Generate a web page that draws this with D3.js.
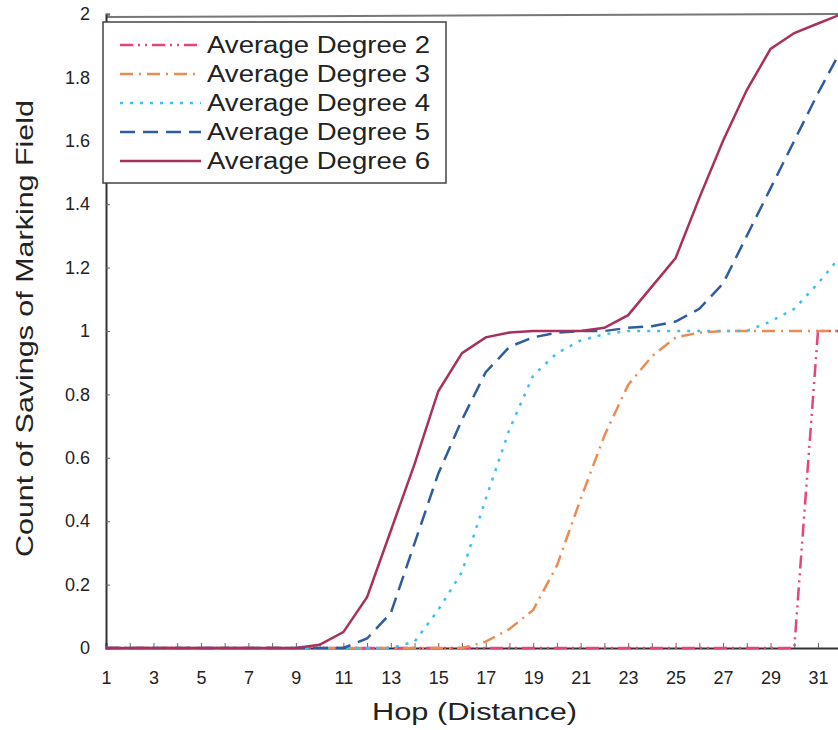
<!DOCTYPE html>
<html>
<head>
<meta charset="utf-8">
<script src="https://cdn.jsdelivr.net/npm/d3@7"></script>
<style>
  body { margin: 0; background: #fff; }
  svg { display: block; font-family: "Liberation Sans", Arial, sans-serif; }
</style>
</head>
<body>
<svg id="chart" width="838" height="730"></svg>
<script>
// hops 1..32
var hops = d3.range(1, 33);
var yTicks = [0, 0.2, 0.4, 0.6, 0.8, 1, 1.2, 1.4, 1.6, 1.8, 2];
var seriesNames = ["Average Degree 2", "Average Degree 3", "Average Degree 4", "Average Degree 5", "Average Degree 6"];

var deg2 = [0,0,0,0,0,0,0,0,0,0, 0,0,0,0,0,0,0,0,0,0, 0,0,0,0,0,0,0,0,0,0, 1.0,1.0];
var deg3 = [0,0,0,0,0,0,0,0,0,0, 0,0,0,0,0,0,0.02,0.06,0.12,0.26, 0.47,0.67,0.83,0.92,0.98,0.995,1.0,1.0,1.0,1.0, 1.0,1.0];
var deg4 = [0,0,0,0,0,0,0,0,0,0, 0,0,0,0.02,0.12,0.24,0.47,0.69,0.86,0.93, 0.97,0.99,1.0,1.0,1.0,1.0,1.0,1.0,1.03,1.07, 1.15,1.24];
var deg5 = [0,0,0,0,0,0,0,0,0,0, 0,0.03,0.11,0.33,0.55,0.72,0.87,0.95,0.98,0.995, 1.0,1.0,1.01,1.015,1.03,1.07,1.15,1.3,1.45,1.6, 1.75,1.89];
var deg6 = [0,0,0,0,0,0,0,0,0,0.01, 0.05,0.16,0.37,0.58,0.81,0.93,0.98,0.995,1.0,1.0, 1.0,1.01,1.05,1.14,1.23,1.42,1.6,1.76,1.89,1.94, 1.97,2.0];

var series = [
  {name: seriesNames[0], values: deg2, color: "#e4457c", dash: "13,5,2,5,2,5"},
  {name: seriesNames[1], values: deg3, color: "#ec8a52", dash: "13,6,2,6"},
  {name: seriesNames[2], values: deg4, color: "#3ec0ee", dash: "3,7"},
  {name: seriesNames[3], values: deg5, color: "#2f5c9e", dash: "15,8"},
  {name: seriesNames[4], values: deg6, color: "#a8305e", dash: null}
];

var svg = d3.select("#chart");
var plotLeft = 106, plotTop = 14, plotBottom = 648;
var unit = 23.733;

var x = d3.scaleLinear().domain([1, 32]).range([plotLeft, plotLeft + 31 * unit]);
var y = d3.scaleLinear().domain([0, 2]).range([plotBottom, plotTop]);

// frame top
svg.append("line")
  .attr("x1", plotLeft).attr("x2", 838)
  .attr("y1", y(2) + 3).attr("y2", y(2))
  .attr("stroke", "#777").attr("stroke-width", 2);

// x axis
var xAxis = d3.axisBottom(x)
  .tickValues(hops)
  .tickSize(-5)
  .tickPadding(23)
  .tickFormat(function(d) { return d % 2 == 1 ? d : ""; });
var gx = svg.append("g").attr("transform", "translate(0," + plotBottom + ")").call(xAxis);
gx.select(".domain").attr("stroke", "#333").attr("stroke-width", 2);
gx.selectAll(".tick line").attr("stroke", "#666");
gx.selectAll("text").attr("font-size", 18).attr("fill", "#222")
  .attr("font-family", "Liberation Sans, Arial, sans-serif");

// y axis
var yAxis = d3.axisLeft(y)
  .tickValues(yTicks)
  .tickSize(-4)
  .tickPadding(16)
  .tickFormat(function(d) { return d3.format("")(+d.toFixed(1)); });
var gy = svg.append("g").attr("transform", "translate(" + plotLeft + ",0)").call(yAxis);
gy.select(".domain").attr("stroke", "#333").attr("stroke-width", 2);
gy.selectAll(".tick line").attr("stroke", "#666");
gy.selectAll("text").attr("font-size", 18).attr("fill", "#222")
  .attr("font-family", "Liberation Sans, Arial, sans-serif");

// series lines
var line = d3.line()
  .x(function(d, i) { return x(hops[i]); })
  .y(function(d) { return y(d); });

svg.selectAll(".series").data(series).enter().append("path")
  .attr("class", "series")
  .attr("d", function(d) { return line(d.values); })
  .attr("fill", "none")
  .attr("stroke", function(d) { return d.color; })
  .attr("stroke-width", 2.5)
  .attr("stroke-dasharray", function(d) { return d.dash; });

// axis titles
svg.append("text")
  .attr("x", 372).attr("y", 720)
  .attr("font-size", 23).attr("fill", "#222")
  .attr("textLength", 205).attr("lengthAdjust", "spacingAndGlyphs")
  .text("Hop (Distance)");

svg.append("text")
  .attr("transform", "translate(33,557) rotate(-90)")
  .attr("font-size", 24).attr("fill", "#222")
  .attr("textLength", 457).attr("lengthAdjust", "spacingAndGlyphs")
  .text("Count of Savings of Marking Field");

// legend
var legend = svg.append("g");
legend.append("rect")
  .attr("x", 103).attr("y", 22).attr("width", 343).attr("height", 161)
  .attr("fill", "#fff").attr("stroke", "#444").attr("stroke-width", 1.5);

var item = legend.selectAll(".item").data(series).enter().append("g")
  .attr("class", "item")
  .attr("transform", function(d, i) { return "translate(0," + (45 + i * 29) + ")"; });
item.append("line")
  .attr("x1", 120).attr("x2", 201)
  .attr("stroke", function(d) { return d.color; })
  .attr("stroke-width", 2.5)
  .attr("stroke-dasharray", function(d) { return d.dash; });
item.append("text")
  .attr("x", 207).attr("y", 8)
  .attr("font-size", 23).attr("fill", "#222")
  .attr("textLength", 223).attr("lengthAdjust", "spacingAndGlyphs")
  .text(function(d) { return d.name; });
</script>
</body>
</html>
